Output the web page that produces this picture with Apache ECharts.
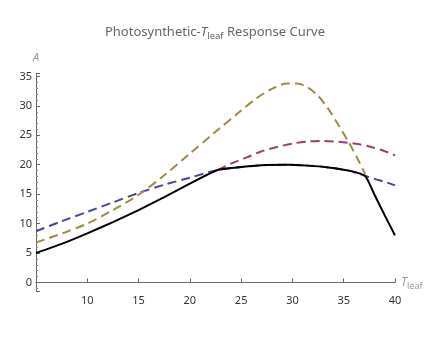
<!DOCTYPE html>
<html>
<head>
<meta charset="utf-8">
<script src="https://cdn.jsdelivr.net/npm/echarts@6/dist/echarts.min.js"></script>
<style>
  html, body { margin: 0; padding: 0; background: #fff; }
  #chart { width: 430px; height: 350px; }
</style>
</head>
<body>
<div id="chart"></div>
<script>
// leaf temperature (x) and assimilation rate (y) for each curve
const blackX = [5, 7.5, 10, 12.5, 15, 17.5, 20, 22.7, 25, 27.5, 29.5, 31.5, 33.5, 35.5, 37.1, 38, 39, 40];
const blackY = [5.0, 6.55, 8.35, 10.25, 12.3, 14.5, 16.8, 19.1, 19.6, 19.95, 20.0, 19.85, 19.55, 19.0, 18.1, 14.9, 11.4, 8.0];

const blueX = [5, 7.5, 10, 12.5, 15, 17.5, 20, 22.7, 25, 27.5, 29.5, 31.5, 33.5, 35.5, 37.1, 38, 39, 40];
const blueY = [8.7, 10.4, 12.0, 13.6, 15.2, 16.6, 17.8, 19.1, 19.6, 19.95, 20.0, 19.85, 19.55, 19.0, 18.1, 17.6, 17.1, 16.5];

const goldX = [5, 7.5, 10, 12.5, 15, 17.5, 20, 22.5, 25, 26.5, 28, 29.5, 30.5, 31.5, 32.5, 33.5, 34.5, 35.5, 36.5, 37.1];
const goldY = [6.8, 8.3, 10.0, 12.3, 14.9, 18.2, 21.9, 25.6, 29.2, 31.3, 32.9, 33.8, 33.8, 33.1, 31.7, 29.5, 26.7, 23.8, 20.5, 18.4];

const pinkX = [22.7, 24, 25.5, 27, 28.5, 30, 31.5, 33, 34.5, 36, 37.5, 39, 40];
const pinkY = [19.1, 20.2, 21.2, 22.3, 23.0, 23.6, 23.95, 24.05, 23.9, 23.6, 23.1, 22.3, 21.6];

const pairs = (xs, ys) => xs.map((x, i) => [x, ys[i]]);

const chart = echarts.init(document.getElementById('chart'));

const dashed = (name, color, xs, ys) => ({
  name: name,
  type: 'line',
  data: pairs(xs, ys),
  showSymbol: false,
  smooth: 0.3,
  lineStyle: { color: color, width: 2, type: [9, 5] },
  silent: true
});

chart.setOption({
  animation: false,
  textStyle: { fontFamily: 'Noto Sans, sans-serif' },
  title: {
    text: '{a|Photosynthetic-}{t|T}{s|leaf}{a| Response Curve}',
    left: 'center',
    top: 18,
    textStyle: {
      fontWeight: 'normal',
      rich: {
        a: { fontSize: 13, color: '#666', fontWeight: 'normal', lineHeight: 18, verticalAlign: 'middle' },
        t: { fontSize: 13, color: '#666', fontWeight: 'normal', fontStyle: 'italic', lineHeight: 18, verticalAlign: 'middle' },
        s: { fontSize: 9.5, color: '#666', fontWeight: 'normal', lineHeight: 10, verticalAlign: 'bottom' }
      }
    }
  },
  grid: { left: 36, right: 35, top: 73.5, bottom: 58.7 },
  xAxis: {
    type: 'value',
    min: 5,
    max: 40,
    interval: 5,
    name: '{t|T}{s|leaf}',
    nameLocation: 'end',
    nameGap: 6,
    nameTextStyle: {
      rich: {
        t: { fontSize: 12, color: '#999', fontStyle: 'italic', lineHeight: 16, verticalAlign: 'middle' },
        s: { fontSize: 9, color: '#999', lineHeight: 10, verticalAlign: 'bottom' }
      }
    },
    axisLine: { onZero: true, lineStyle: { color: '#666', width: 1 } },
    axisTick: { inside: true, length: 4, lineStyle: { color: '#666' } },
    axisLabel: { color: '#333', fontSize: 11, margin: 4, showMinLabel: false },
    splitLine: { show: false }
  },
  yAxis: {
    type: 'value',
    min: -1.5,
    max: 35.5,
    splitNumber: 7,
    name: 'A',
    nameLocation: 'end',
    nameGap: 10,
    nameTextStyle: { color: '#999', fontSize: 11, fontStyle: 'italic' },
    axisLine: { show: true, lineStyle: { color: '#666', width: 1 } },
    axisTick: { inside: true, length: 4, lineStyle: { color: '#666' } },
    minorTick: { show: true, splitNumber: 5, length: 2, lineStyle: { color: '#888' } },
    axisLabel: {
      color: '#333',
      fontSize: 11,
      margin: 4,
      formatter: v => (v % 5 === 0 ? String(v) : '')
    },
    splitLine: { show: false }
  },
  series: [
    dashed('Blue', '#4a42a0', blueX, blueY),
    dashed('Pink', '#a03c72', pinkX, pinkY),
    dashed('Gold', '#a08c45', goldX, goldY),
    {
      name: 'Net',
      type: 'line',
      data: pairs(blackX, blackY),
      showSymbol: false,
      smooth: 0.15,
      lineStyle: { color: '#000', width: 2 },
      silent: true
    }
  ]
});
</script>
</body>
</html>
